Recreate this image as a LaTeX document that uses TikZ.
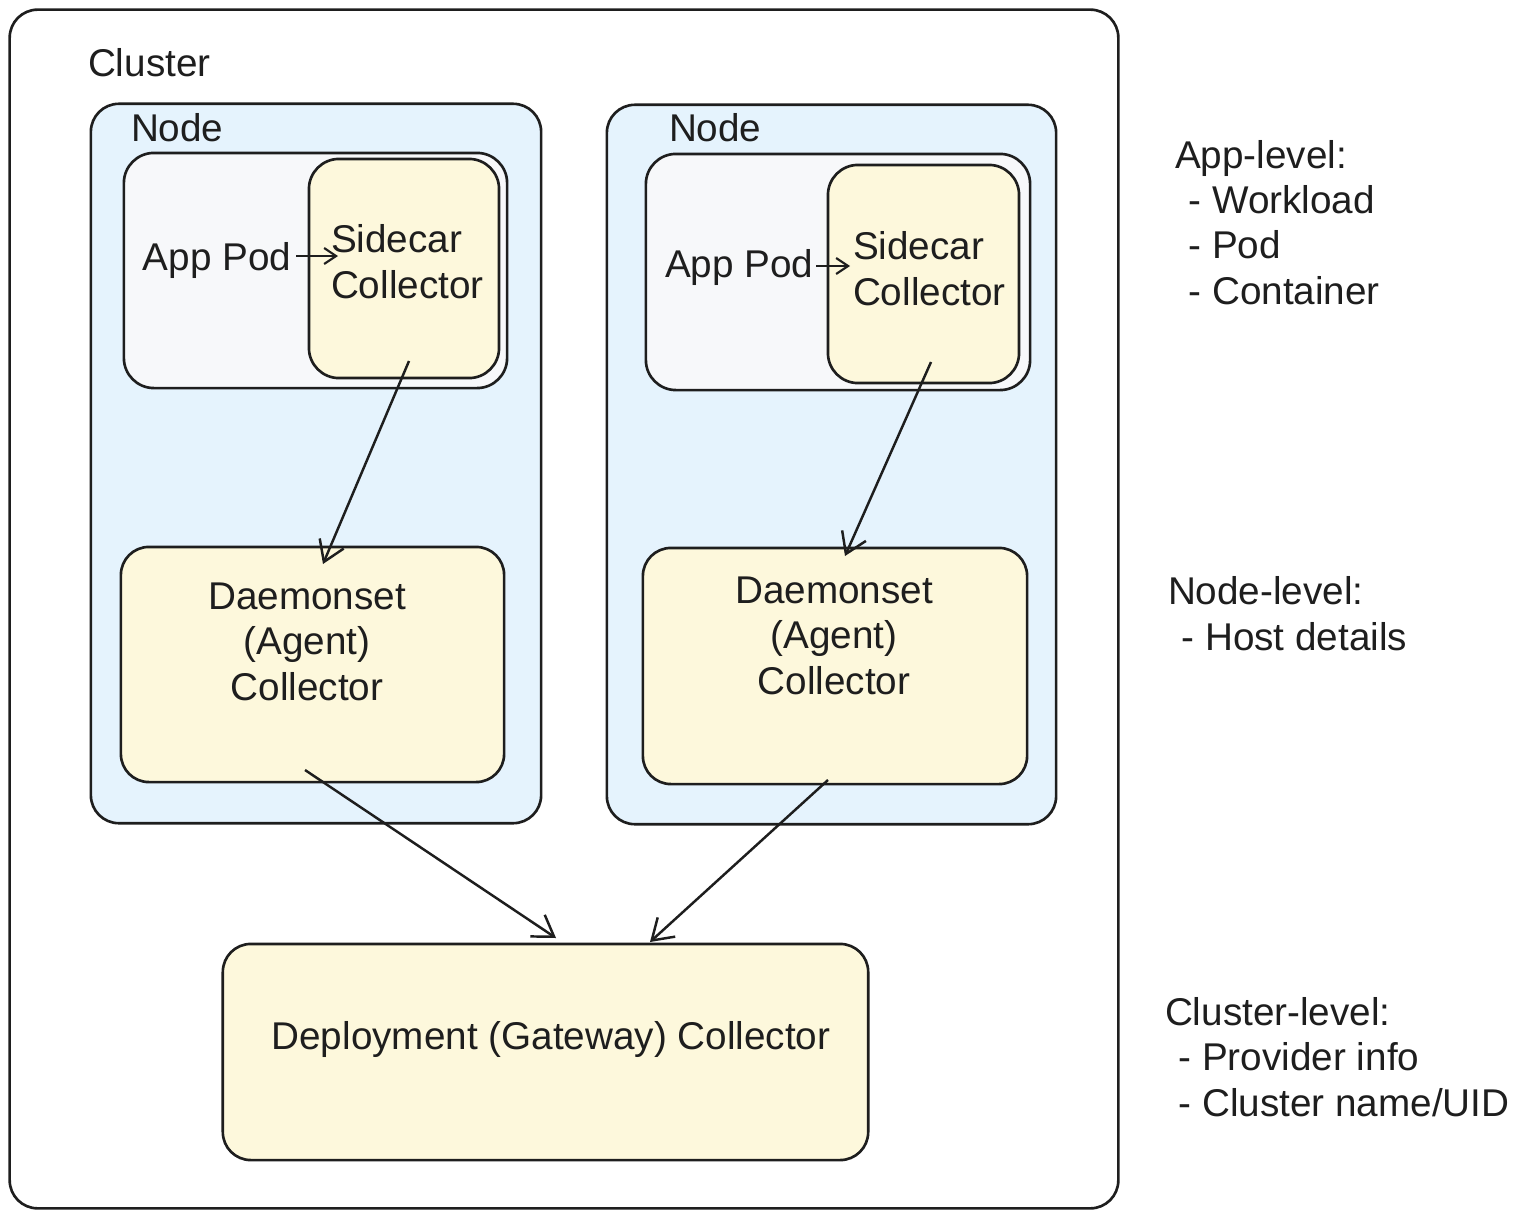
\documentclass[tikz,border=0pt]{standalone}
\usepackage{fontspec}
\setmainfont{Liberation Sans}
\usetikzlibrary{arrows.meta}
\definecolor{ink}{HTML}{1E1E1E}
\definecolor{nodeblue}{HTML}{E5F3FD}
\definecolor{podgray}{HTML}{F7F8FA}
\definecolor{colyel}{HTML}{FDF8DC}
\begin{document}
\begin{tikzpicture}[x=0.01cm,y=-0.01cm,
  box/.style={draw=ink,line width=0.75pt,inner sep=0pt,outer sep=0pt,rounded corners=0.28cm},
  lbl/.style={inner sep=0pt,outer sep=0pt,text=ink,font=\fontsize{11pt}{12.8pt}\selectfont},
  conn/.style={draw=ink,line width=0.7pt,-{Straight Barb[length=0.2cm,width=0.26cm,line width=0.7pt]}},
  small/.style={draw=ink,line width=0.6pt,-{Straight Barb[length=0.12cm,width=0.16cm,line width=0.6pt]}}]
\useasboundingbox (0,0) rectangle (1533,1218);
% cluster
\node[box,fill=white,minimum width=11.08cm,minimum height=11.98cm] (cluster) at (564,609) {};
\node[lbl,anchor=base west] (clusterlbl) at (88,76) {Cluster};
% nodes
\node[box,fill=nodeblue,minimum width=4.50cm,minimum height=7.19cm] (nodeL) at (316,463.5) {};
\node[box,fill=nodeblue,minimum width=4.49cm,minimum height=7.19cm] (nodeR) at (831.5,464.5) {};
\node[lbl,anchor=base west] (nodeLlbl) at (131,141) {Node};
\node[lbl,anchor=base west] (nodeRlbl) at (669,141) {Node};
% pods
\node[box,fill=podgray,minimum width=3.83cm,minimum height=2.35cm,rounded corners=0.3cm] (podL) at (315.5,270.5) {};
\node[box,fill=podgray,minimum width=3.84cm,minimum height=2.36cm,rounded corners=0.3cm] (podR) at (838,272) {};
% sidecars
\node[box,fill=colyel,minimum width=1.90cm,minimum height=2.19cm,rounded corners=0.3cm] (sideL) at (404,268.5) {};
\node[box,fill=colyel,minimum width=1.91cm,minimum height=2.18cm,rounded corners=0.3cm] (sideR) at (923.5,274) {};
\node[lbl,anchor=base west] (appL) at (143,270) {App Pod};
\node[lbl,anchor=base west] (appR) at (665,277) {App Pod};
\node[lbl,anchor=base west,align=left] (sideLlbl) at (331,298) {Sidecar\\Collector};
\node[lbl,anchor=base west,align=left] (sideRlbl) at (853,305) {Sidecar\\Collector};
% daemonsets
\node[box,fill=colyel,minimum width=3.83cm,minimum height=2.35cm] (daemL) at (312.5,664.5) {};
\node[box,fill=colyel,minimum width=3.84cm,minimum height=2.36cm] (daemR) at (835,666) {};
\node[lbl,anchor=base,align=center] (daemLlbl) at (307,700) {Daemonset\\(Agent)\\Collector};
\node[lbl,anchor=base,align=center] (daemRlbl) at (834,694) {Daemonset\\(Agent)\\Collector};
% deployment
\node[box,fill=colyel,minimum width=6.45cm,minimum height=2.16cm] (depl) at (545.5,1052) {};
\node[lbl,anchor=base] (depllbl) at (551,1049) {Deployment (Gateway) Collector};
% side notes
\node[lbl,anchor=base west,align=left] (applevel) at (1175,304) {App-level:\\\hspace*{0.35em}- Workload\\\hspace*{0.35em}- Pod\\\hspace*{0.35em}- Container};
\node[lbl,anchor=base west,align=left] (nodelevel) at (1168,650) {Node-level:\\\hspace*{0.35em}- Host details};
\node[lbl,anchor=base west,align=left] (clusterlevel) at (1165,1116) {Cluster-level:\\\hspace*{0.35em}- Provider info\\\hspace*{0.35em}- Cluster name/UID};
% connector end points
\coordinate (pLs) at (296,256);
\coordinate (pLe) at (338,256);
\coordinate (pRs) at (816,266);
\coordinate (pRe) at (850,266);
\coordinate (sLs) at (409,361);
\coordinate (sLe) at (323,564);
\coordinate (sRs) at (931,362);
\coordinate (sRe) at (845,556);
\coordinate (dLs) at (305,770);
\coordinate (dLe) at (556,938);
\coordinate (dRs) at (828,780);
\coordinate (dRe) at (650,942);
\draw[small] (pLs) -- (pLe);
\draw[small] (pRs) -- (pRe);
\draw[conn] (sLs) -- (sLe);
\draw[conn] (sRs) -- (sRe);
\draw[conn] (dLs) -- (dLe);
\draw[conn] (dRs) -- (dRe);
\end{tikzpicture}
\end{document}
